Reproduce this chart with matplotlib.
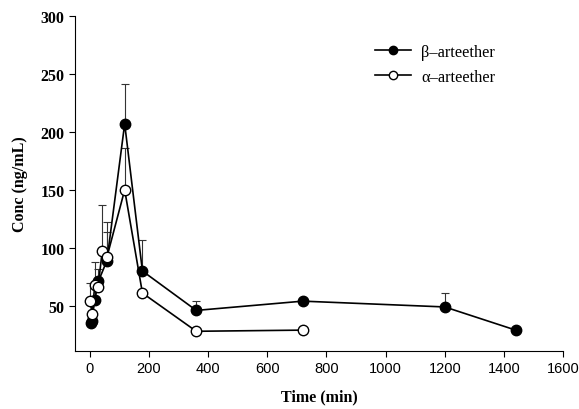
import matplotlib
matplotlib.use("Agg")
import matplotlib.pyplot as plt

# -------------------------------------------------------------------
# DATA
# -------------------------------------------------------------------

beta_time = [3, 7, 17, 29, 58, 118, 178, 360, 720, 1200, 1440]
beta_conc = [35, 37, 55, 71, 89, 207, 80, 46, 54, 49, 29]
beta_err_top = [None, None, 88, None, 122, 241, 107, 54, None, 61, None]

alpha_time = [1, 8, 17, 28, 42, 58, 118, 178, 360, 720]
alpha_conc = [54, 43, 68, 66, 97, 92, 150, 61, 28, 29]
alpha_err_top = [70, None, None, 82, 137, 114, 186, None, None, None]

x_ticks = [0, 200, 400, 600, 800, 1000, 1200, 1400, 1600]
y_ticks = [50, 100, 150, 200, 250, 300]

# -------------------------------------------------------------------
# PLOT
# -------------------------------------------------------------------

fig = plt.figure(figsize=(5.79, 4.10), dpi=100)
ax = fig.add_axes([0.1295, 0.1415, 0.843, 0.817])


def upper_bars(t, c, top):
    xs = [ti for ti, e in zip(t, top) if e is not None]
    ys = [ci for ci, e in zip(c, top) if e is not None]
    up = [e - ci for ci, e in zip(c, top) if e is not None]
    low = [0] * len(up)
    ax.errorbar(xs, ys, yerr=[low, up], fmt='none', ecolor='#333333',
                elinewidth=0.8, capsize=3, capthick=0.8, zorder=1)


upper_bars(beta_time, beta_conc, beta_err_top)
upper_bars(alpha_time, alpha_conc, alpha_err_top)

ax.plot(beta_time, beta_conc, color='black', lw=1.2, marker='o',
        markersize=7.5, markerfacecolor='black', markeredgecolor='black',
        label='β–arteether', zorder=3)
ax.plot(alpha_time, alpha_conc, color='black', lw=1.2, marker='o',
        markersize=7.5, markerfacecolor='white', markeredgecolor='black',
        label='α–arteether', zorder=3)

ax.set_xlim(-50, 1600)
ax.set_ylim(11, 300)
ax.set_xticks(x_ticks)
ax.set_yticks(y_ticks)

ax.spines['top'].set_visible(False)
ax.spines['right'].set_visible(False)
ax.spines['left'].set_linewidth(0.8)
ax.spines['bottom'].set_linewidth(0.8)
ax.tick_params(direction='out', length=4, width=0.8)

for lab in ax.get_xticklabels():
    lab.set_fontfamily('Liberation Sans')
    lab.set_fontsize(10.5)
for lab in ax.get_yticklabels():
    lab.set_fontfamily('Liberation Serif')
    lab.set_fontweight('bold')
    lab.set_fontsize(11.5)

ax.set_xlabel("Time (min)", fontfamily='Liberation Serif', fontweight='bold',
              fontsize=11.5, labelpad=9)
ax.set_ylabel("Conc (ng/mL)", fontfamily='Liberation Serif', fontweight='bold',
              fontsize=11.5, labelpad=9)

leg = ax.legend(loc='upper left', bbox_to_anchor=(0.585, 0.96), frameon=False,
                prop={'family': ['Liberation Serif', 'DejaVu Serif'], 'size': 11.8},
                handlelength=2.2, handletextpad=0.6, labelspacing=0.55,
                markerscale=0.8)

plt.savefig("out.png", dpi=100)
